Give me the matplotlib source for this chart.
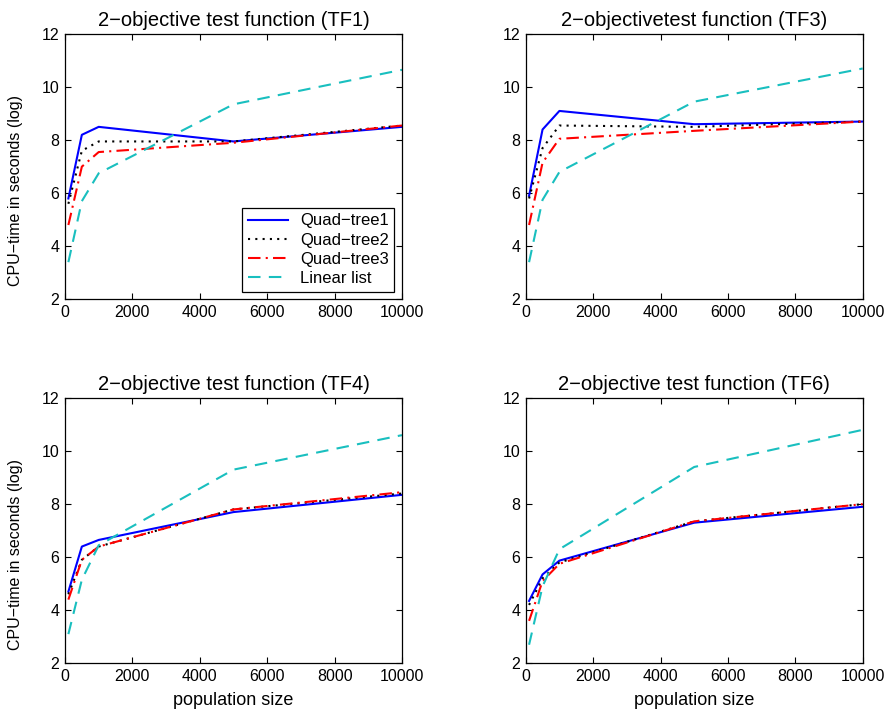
import matplotlib.pyplot as plt

plt.rcParams['font.family'] = ['Liberation Sans', 'DejaVu Sans']
plt.rcParams['axes.unicode_minus'] = True

# population sizes
pop = [100, 500, 1000, 5000, 10000]

# CPU-time (log), one list per test function and method
tf1_qt1 = [5.8, 8.2, 8.5, 7.95, 8.5]
tf1_qt2 = [5.6, 7.6, 7.95, 7.95, 8.55]
tf1_qt3 = [4.8, 7.0, 7.55, 7.9, 8.55]
tf1_lin = [3.4, 5.7, 6.75, 9.35, 10.65]

tf3_qt1 = [5.9, 8.4, 9.1, 8.6, 8.7]
tf3_qt2 = [5.8, 7.7, 8.55, 8.5, 8.7]
tf3_qt3 = [4.8, 7.15, 8.05, 8.35, 8.7]
tf3_lin = [3.4, 5.75, 6.8, 9.45, 10.7]

tf4_qt1 = [4.7, 6.4, 6.65, 7.7, 8.35]
tf4_qt2 = [4.6, 5.9, 6.4, 7.8, 8.4]
tf4_qt3 = [4.4, 5.9, 6.4, 7.8, 8.45]
tf4_lin = [3.1, 5.15, 6.45, 9.3, 10.6]

tf6_qt1 = [4.35, 5.35, 5.87, 7.3, 7.9]
tf6_qt2 = [4.2, 5.2, 5.8, 7.35, 8.0]
tf6_qt3 = [3.6, 5.1, 5.75, 7.35, 8.0]
tf6_lin = [2.7, 4.9, 6.3, 9.4, 10.8]

titles = ["2\u2212objective test function (TF1)", "2\u2212objectivetest function (TF3)",
          "2\u2212objective test function (TF4)", "2\u2212objective test function (TF6)"]
labels = ["Quad\u2212tree1", "Quad\u2212tree2", "Quad\u2212tree3", "Linear list"]

panels = [(tf1_qt1, tf1_qt2, tf1_qt3, tf1_lin),
          (tf3_qt1, tf3_qt2, tf3_qt3, tf3_lin),
          (tf4_qt1, tf4_qt2, tf4_qt3, tf4_lin),
          (tf6_qt1, tf6_qt2, tf6_qt3, tf6_lin)]

styles = [dict(color='#0000ff', ls='-'),
          dict(color='k', ls=(0, (1, 2.5))),
          dict(color='#ff0000', ls=(0, (6, 2.5, 1, 2.5))),
          dict(color='#19bfbf', ls=(0, (6, 4)))]

fig = plt.figure(figsize=(8.93, 7.25), dpi=100)
w, h = 337 / 893, 265.3 / 725
rects = [(65 / 893, 1 - 299.3 / 725), (525.7 / 893, 1 - 299.3 / 725),
         (65 / 893, 1 - 663.3 / 725), (525.7 / 893, 1 - 663.3 / 725)]

for i, (data, (x0, y0)) in enumerate(zip(panels, rects)):
    ax = fig.add_axes([x0, y0, w, h])
    for ys, st, lb in zip(data, styles, labels):
        ax.plot(pop, ys, lw=1.5, label=lb, **st)
    ax.set_xlim(0, 10000)
    ax.set_ylim(2, 12)
    ax.set_xticks(range(0, 10001, 2000))
    ax.set_yticks(range(2, 13, 2))
    ax.tick_params(direction='in', top=True, right=True, labelsize=11.5, length=4, width=0.8, pad=4)
    for sp in ax.spines.values():
        sp.set_linewidth(0.9)
    ax.set_title(titles[i], fontsize=14.5, pad=6)
    if i % 2 == 0:
        ax.set_ylabel("CPU\u2212time in seconds (log)", fontsize=11.5)
        ax.yaxis.set_label_coords(-0.125, 0.41)
    if i >= 2:
        ax.set_xlabel("population size", fontsize=13, labelpad=6)
    if i == 0:
        leg = ax.legend(loc='lower right', fontsize=12, fancybox=False, edgecolor='k',
                        framealpha=1, borderaxespad=0.45, handlelength=2.4,
                        labelspacing=0.25, borderpad=0.35, handletextpad=0.7)
        leg.get_frame().set_linewidth(0.9)

fig.savefig("out.png", dpi=100)
